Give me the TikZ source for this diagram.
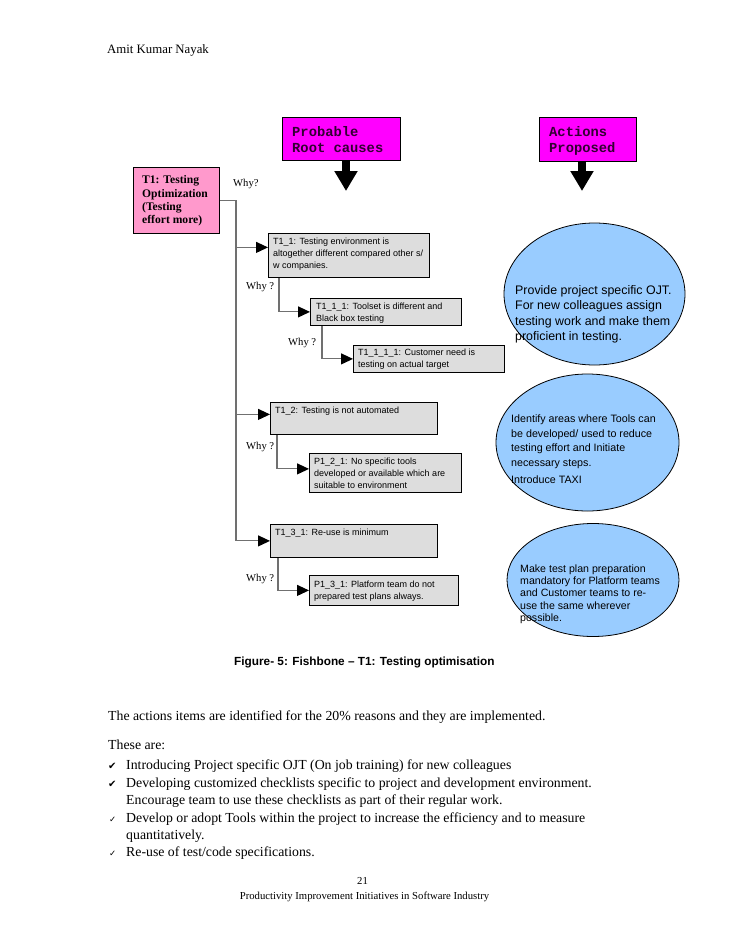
\documentclass[tikz,border=0pt]{standalone}
\usepackage{fontspec}
\setmainfont{Liberation Serif}
\setsansfont{Liberation Sans}
\setmonofont{Liberation Mono}
\newfontfamily\symfont{DejaVu Sans}
\usetikzlibrary{arrows.meta,shapes.geometric}
\definecolor{magbox}{HTML}{FF00FF}
\definecolor{pinkbox}{HTML}{FF99CC}
\definecolor{graybox}{HTML}{DDDDDD}
\definecolor{bluell}{HTML}{99CCFF}
\definecolor{connc}{HTML}{707070}
\definecolor{magtext}{HTML}{330033}
\tikzset{
  mbox/.style={draw=black, fill=magbox, line width=0.8pt, anchor=north west, inner sep=0pt},
  mtxt/.style={anchor=north west, inner sep=0pt, align=left, text=magtext,
    font=\ttfamily\bfseries\fontsize{13.8}{16.5}\selectfont},
  pbox/.style={draw=black, fill=pinkbox, line width=0.8pt, anchor=north west, inner sep=0pt},
  ptxt/.style={anchor=north west, inner sep=0pt, align=left,
    font=\rmfamily\bfseries\fontsize{11.6}{13.4}\selectfont},
  gbox/.style={draw=black, fill=graybox, line width=0.8pt, anchor=north west, inner sep=0pt},
  gtxt/.style={anchor=north west, inner sep=0pt, align=left,
    font=\sffamily\fontsize{9}{12}\selectfont},
  whylab/.style={anchor=west, inner sep=0pt, font=\rmfamily\fontsize{10.6}{12}\selectfont},
  conn/.style={draw=connc, line width=1.1pt},
  tipped/.style={-{Triangle[length=12pt,width=11pt,black]}},
  bigarrow/.style={draw=black, line width=8pt, -{Triangle[length=20pt,width=22pt]}},
  ell/.style={ellipse, draw=black, fill=bluell, line width=0.8pt, inner sep=0pt},
  etxt/.style={anchor=north west, inner sep=0pt, align=left},
  body/.style={anchor=base west, inner sep=0pt, align=left,
    font=\rmfamily\fontsize{13.8}{17.4}\selectfont},
}
\begin{document}
\begin{tikzpicture}[x=1pt,y=-1pt]
\fill[white] (0,0) rectangle (728,942);
\useasboundingbox (0,0) rectangle (728,942);

% header
\node[anchor=base west, inner sep=0pt, font=\rmfamily\fontsize{12.8}{15}\selectfont] (hdr) at (107,53) {Amit Kumar Nayak};

% magenta headings
\node[mbox, minimum width=118pt, minimum height=43pt] (pr) at (282,117) {};
\node[mtxt] (prt) at (292,126) {Probable\\Root causes};
\node[mbox, minimum width=97pt, minimum height=44pt] (ap) at (539,117) {};
\node[mtxt] (apt) at (549,126) {Actions\\Proposed};
\coordinate (prtip) at (346,191);
\coordinate (aptip) at (582,191);
\draw[bigarrow] (prtip |- pr.south) -- (prtip);
\draw[bigarrow] (aptip |- ap.south) -- (aptip);

% T1 box
\node[pbox, minimum width=86pt, minimum height=66pt] (t1) at (133,167) {};
\node[ptxt] (t1t) at (142,175.5) {T1: Testing\\Optimization\\(Testing\\effort more)};
\node[whylab] (why0) at (233,184) {Why?};

% gray boxes
\node[gbox, minimum width=161pt, minimum height=44pt] (t11) at (268,233) {};
\node[gtxt] (t11t) at (273,238) {T1\_1: Testing environment is\\altogether different compared other s/\\w companies.};
\node[gbox, minimum width=151pt, minimum height=27pt] (t111) at (310,298) {};
\node[gtxt] (t111t) at (316,302.5) {T1\_1\_1: Toolset is different and\\Black box testing};
\node[gbox, minimum width=151pt, minimum height=27pt] (t1111) at (353,345) {};
\node[gtxt] (t1111t) at (358,349) {T1\_1\_1\_1: Customer need is\\testing on actual target};
\node[gbox, minimum width=167pt, minimum height=32pt] (t12) at (270,402) {};
\node[gtxt] (t12t) at (275,407) {T1\_2: Testing is not automated};
\node[gbox, minimum width=152pt, minimum height=39pt] (p121) at (309,453) {};
\node[gtxt] (p121t) at (314,457.5) {P1\_2\_1: No specific tools\\developed or available which are\\suitable to environment};
\node[gbox, minimum width=167pt, minimum height=33pt] (t131) at (270,524) {};
\node[gtxt] (t131t) at (275,529) {T1\_3\_1: Re-use is minimum};
\node[gbox, minimum width=149pt, minimum height=30pt] (p131) at (309,575) {};
\node[gtxt] (p131t) at (314,580.5) {P1\_3\_1: Platform team do not\\prepared test plans always.};

% why labels
\node[whylab] (why1) at (246,287) {Why ?};
\node[whylab] (why2) at (288,343) {Why ?};
\node[whylab] (why3) at (246,447) {Why ?};
\node[whylab] (why4) at (246,579) {Why ?};

% connectors
\coordinate (tr) at (236,0);
\coordinate (a11) at ([yshift=8pt]t11.west);
\coordinate (a12) at ([yshift=4pt]t12.west);
\coordinate (a121) at ([yshift=4pt]p121.west);
\coordinate (s11) at ([xshift=11pt]t11.south west);
\coordinate (s111) at ([xshift=12pt]t111.south west);
\coordinate (s12) at ([xshift=7pt]t12.south west);
\coordinate (s13) at ([xshift=8pt]t131.south west);
\draw[conn,tipped] (t1.east) -| (t131.west -| tr) -- (t131.west);
\draw[conn,tipped] (a11 -| tr) -- (a11);
\draw[conn,tipped] (a12 -| tr) -- (a12);
\draw[conn,tipped] (s11) |- (t111.west);
\draw[conn,tipped] (s111) |- (t1111.west);
\draw[conn,tipped] (s12) |- (a121);
\draw[conn,tipped] (s13) |- (p131.west);

% ellipses
\node[ell, minimum width=181pt, minimum height=142pt] (e1) at (594.5,294) {};
\node[etxt, font=\sffamily\fontsize{12.4}{15.2}\selectfont] (e1t) at (515,285.5)
  {Provide project specific OJT.\\For new colleagues assign\\testing work and make them\\proficient in testing.};
\node[ell, minimum width=183pt, minimum height=137pt] (e2) at (587.5,442.5) {};
\node[etxt, font=\sffamily\fontsize{10.7}{14.7}\selectfont] (e2t) at (511,414.5)
  {Identify areas where Tools can\\be developed/ used to reduce\\testing effort and Initiate\\necessary steps.};
\node[etxt, font=\sffamily\fontsize{10.7}{14.7}\selectfont] (e2t2) at (511,475.5) {Introduce TAXI};
\node[ell, minimum width=172pt, minimum height=113pt] (e3) at (593,580) {};
\node[etxt, font=\sffamily\fontsize{10.6}{12.3}\selectfont] (e3t) at (520,564.5)
  {Make test plan preparation\\mandatory for Platform teams\\and Customer teams to re-\\use the same wherever\\possible.};

% caption
\node[anchor=base west, inner sep=0pt, font=\sffamily\bfseries\fontsize{11.8}{14}\selectfont] (cap) at (234,665)
  {Figure- 5: Fishbone – T1: Testing optimisation};

% body text
\node[body] (b1) at (108,720) {The actions items are identified for the 20\% reasons and they are implemented.};
\node[body] (b2) at (108,749) {These are:};
\node[anchor=base west, inner sep=0pt, font=\symfont\fontsize{10}{12}\selectfont] (c1) at (108,769) {✔};
\node[body] (i1) at (126,769) {Introducing Project specific OJT (On job training) for new colleagues};
\node[anchor=base west, inner sep=0pt, font=\symfont\fontsize{10}{12}\selectfont] (c2) at (108,787) {✔};
\node[body] (i2) at (126,787) {Developing customized checklists specific to project and development environment.};
\node[body] (i2b) at (126,804.4) {Encourage team to use these checklists as part of their regular work.};
\node[anchor=base west, inner sep=0pt, font=\symfont\fontsize{8.5}{12}\selectfont] (c3) at (109,822) {✓};
\node[body] (i3) at (126,822) {Develop or adopt Tools within the project to increase the efficiency and to measure};
\node[body] (i3b) at (126,839.4) {quantitatively.};
\node[anchor=base west, inner sep=0pt, font=\symfont\fontsize{8.5}{12}\selectfont] (c4) at (109,856.8) {✓};
\node[body] (i4) at (126,856.8) {Re-use of test/code specifications.};

% footer
\node[anchor=base, inner sep=0pt, font=\rmfamily\fontsize{10.7}{12}\selectfont] (pg) at (362.5,884) {21};
\node[anchor=base, inner sep=0pt, font=\rmfamily\fontsize{10.7}{12}\selectfont] (ft) at (364.5,899)
  {Productivity Improvement Initiatives in Software Industry};
\end{tikzpicture}
\end{document}
